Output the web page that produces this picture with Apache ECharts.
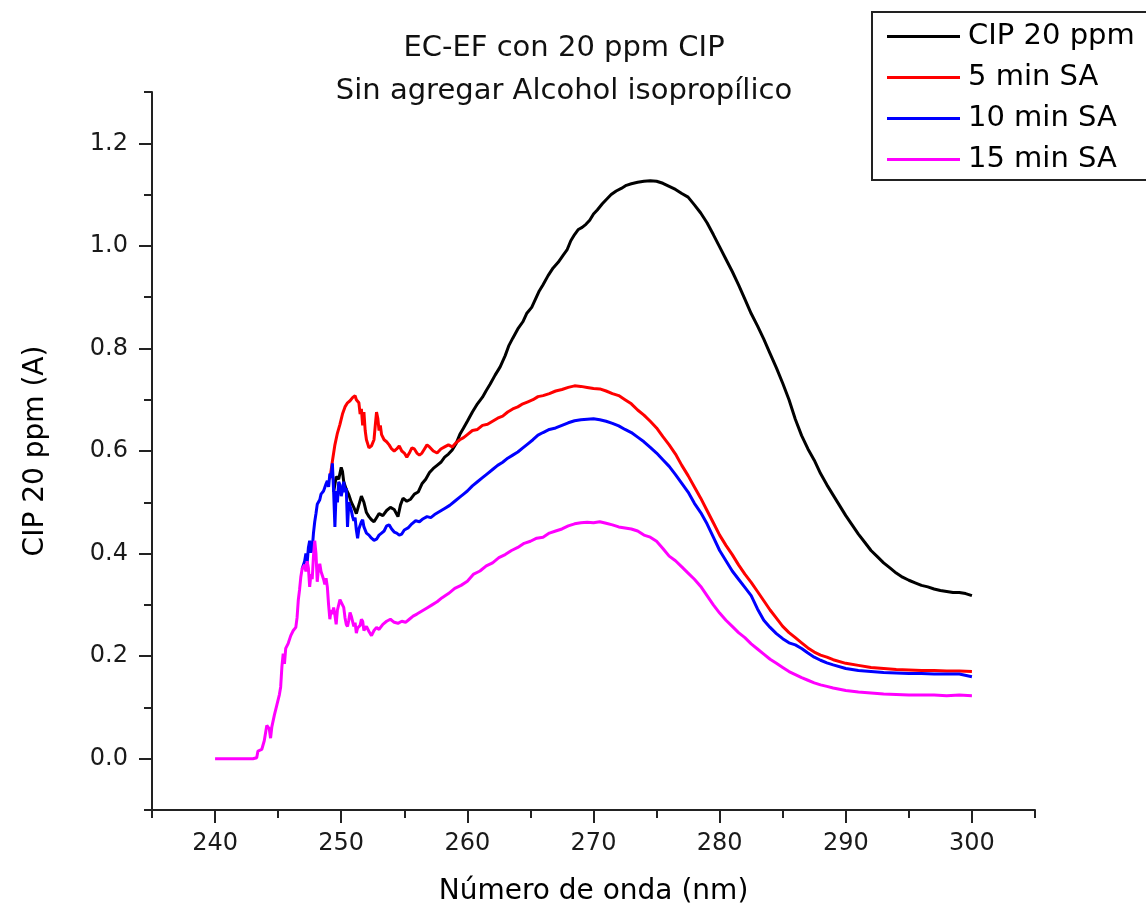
<!DOCTYPE html>
<html><head><meta charset="utf-8">
<script src="https://cdn.jsdelivr.net/npm/echarts@6/dist/echarts.min.js"></script>
<style>html,body{margin:0;padding:0;background:#fff}#chart{width:1146px;height:911px}</style>
</head><body><div id="chart"></div>
<script>
const seriesNames = ['CIP 20 ppm', '5 min SA', '10 min SA', '15 min SA'];
const seriesColors = ['#000000', '#ff0000', '#0000ff', '#ff00ff'];
const xMajorTicks = [240, 250, 260, 270, 280, 290, 300];
const xMinorTicks = [235, 245, 255, 265, 275, 285, 295, 305];
const yMajorTicks = [0, 0.2, 0.4, 0.6, 0.8, 1.0, 1.2];
const yMinorTicks = [-0.1, 0.1, 0.3, 0.5, 0.7, 0.9, 1.1, 1.3];

// [wavelength nm, absorbance]
const cip20 = [[249.4,0.52],[249.6,0.55],[249.8,0.545],[250.0,0.568],[250.1,0.560],[250.2,0.540],[250.4,0.525],[250.6,0.515],[250.8,0.500],[251.0,0.490],[251.2,0.478],[251.4,0.495],[251.6,0.512],[251.8,0.500],[252.0,0.480],[252.2,0.472],[252.4,0.466],[252.6,0.462],[252.8,0.470],[253.0,0.478],[253.3,0.474],[253.6,0.484],[253.9,0.490],[254.2,0.486],[254.5,0.472],[254.7,0.495],[254.9,0.508],[255.2,0.502],[255.5,0.506],[255.8,0.516],[256.1,0.520],[256.4,0.536],[256.7,0.545],[257.0,0.558],[257.3,0.566],[257.6,0.572],[257.9,0.578],[258.2,0.588],[258.5,0.594],[258.8,0.602],[259.1,0.614],[259.4,0.632],[259.7,0.645],[260.0,0.658],[260.4,0.676],[260.8,0.692],[261.2,0.705],[261.5,0.718],[261.8,0.730],[262.2,0.748],[262.6,0.764],[263.0,0.786],[263.3,0.806],[263.6,0.820],[264.0,0.838],[264.4,0.852],[264.7,0.868],[265.1,0.880],[265.4,0.896],[265.7,0.912],[266.0,0.924],[266.4,0.942],[266.8,0.957],[267.2,0.968],[267.6,0.982],[267.9,0.992],[268.2,1.010],[268.5,1.022],[268.8,1.032],[269.1,1.036],[269.4,1.042],[269.7,1.050],[270.0,1.062],[270.3,1.070],[270.7,1.082],[271.0,1.090],[271.4,1.100],[271.8,1.107],[272.2,1.112],[272.6,1.118],[273.0,1.121],[273.5,1.124],[274.0,1.126],[274.5,1.127],[275.0,1.126],[275.5,1.122],[276.0,1.116],[276.5,1.110],[277.0,1.102],[277.5,1.095],[278.0,1.080],[278.5,1.064],[279.0,1.045],[279.5,1.022],[280.0,0.998],[280.5,0.974],[281.0,0.950],[281.5,0.924],[282.0,0.896],[282.5,0.868],[283.0,0.844],[283.5,0.818],[284.0,0.790],[284.5,0.762],[285.0,0.732],[285.5,0.700],[286.0,0.662],[286.5,0.630],[287.0,0.604],[287.5,0.582],[288.0,0.556],[288.5,0.534],[289.0,0.514],[289.5,0.494],[290.0,0.474],[290.5,0.456],[291.0,0.438],[291.5,0.422],[292.0,0.406],[292.5,0.394],[293.0,0.382],[293.5,0.372],[294.0,0.362],[294.5,0.354],[295.0,0.348],[295.5,0.343],[296.0,0.338],[296.5,0.335],[297.0,0.331],[297.5,0.328],[298.0,0.326],[298.5,0.324],[299.0,0.324],[299.5,0.322],[300.0,0.318]];

const min5 = [[249.1,0.545],[249.3,0.580],[249.5,0.612],[249.7,0.635],[249.9,0.652],[250.1,0.672],[250.3,0.686],[250.5,0.694],[250.7,0.698],[250.9,0.704],[251.1,0.708],[251.2,0.700],[251.4,0.694],[251.5,0.672],[251.6,0.682],[251.7,0.650],[251.8,0.676],[251.9,0.640],[252.0,0.622],[252.2,0.606],[252.4,0.610],[252.6,0.622],[252.7,0.650],[252.8,0.676],[252.9,0.664],[253.0,0.640],[253.1,0.650],[253.2,0.632],[253.4,0.622],[253.6,0.618],[253.8,0.612],[254.0,0.604],[254.2,0.600],[254.4,0.604],[254.6,0.610],[254.8,0.600],[255.0,0.596],[255.2,0.588],[255.4,0.596],[255.6,0.606],[255.8,0.604],[256.0,0.596],[256.2,0.592],[256.4,0.596],[256.6,0.604],[256.8,0.612],[257.0,0.608],[257.3,0.600],[257.6,0.596],[257.9,0.604],[258.2,0.608],[258.5,0.612],[258.8,0.608],[259.1,0.616],[259.4,0.622],[259.7,0.626],[260.0,0.632],[260.4,0.640],[260.8,0.642],[261.2,0.650],[261.6,0.652],[262.0,0.658],[262.4,0.664],[262.8,0.668],[263.2,0.676],[263.6,0.682],[264.0,0.686],[264.4,0.692],[264.8,0.696],[265.2,0.700],[265.6,0.706],[266.0,0.708],[266.5,0.712],[267.0,0.717],[267.5,0.720],[268.0,0.724],[268.5,0.727],[269.0,0.726],[269.5,0.724],[270.0,0.722],[270.5,0.721],[271.0,0.717],[271.5,0.712],[272.0,0.708],[272.5,0.700],[273.0,0.692],[273.5,0.680],[274.0,0.670],[274.5,0.658],[275.0,0.645],[275.5,0.628],[276.0,0.612],[276.5,0.594],[277.0,0.572],[277.5,0.552],[278.0,0.530],[278.5,0.508],[279.0,0.484],[279.5,0.460],[280.0,0.436],[280.5,0.416],[281.0,0.398],[281.5,0.378],[282.0,0.360],[282.5,0.344],[283.0,0.326],[283.5,0.308],[284.0,0.290],[284.5,0.274],[285.0,0.258],[285.5,0.246],[286.0,0.236],[286.5,0.226],[287.0,0.216],[287.5,0.208],[288.0,0.202],[288.5,0.198],[289.0,0.193],[290.0,0.186],[291.0,0.182],[292.0,0.178],[293.0,0.176],[294.0,0.174],[295.0,0.173],[296.0,0.172],[297.0,0.172],[298.0,0.171],[299.0,0.171],[300.0,0.170]];

const min10 = [[246.9,0.370],[247.1,0.385],[247.2,0.400],[247.3,0.382],[247.4,0.412],[247.5,0.425],[247.6,0.402],[247.7,0.408],[247.8,0.440],[247.9,0.462],[248.0,0.478],[248.1,0.496],[248.3,0.505],[248.4,0.516],[248.6,0.522],[248.8,0.536],[248.9,0.542],[249.0,0.530],[249.1,0.556],[249.2,0.548],[249.3,0.576],[249.4,0.520],[249.5,0.452],[249.6,0.522],[249.7,0.500],[249.8,0.540],[249.9,0.534],[250.0,0.512],[250.1,0.524],[250.2,0.540],[250.3,0.520],[250.4,0.528],[250.5,0.452],[250.6,0.500],[250.7,0.492],[250.8,0.484],[250.9,0.472],[251.0,0.464],[251.1,0.470],[251.2,0.446],[251.3,0.430],[251.4,0.448],[251.6,0.462],[251.7,0.466],[251.8,0.452],[252.0,0.440],[252.2,0.436],[252.4,0.430],[252.6,0.426],[252.8,0.428],[253.0,0.436],[253.2,0.440],[253.4,0.444],[253.6,0.454],[253.8,0.456],[254.0,0.448],[254.2,0.442],[254.4,0.440],[254.6,0.436],[254.8,0.438],[255.0,0.446],[255.3,0.450],[255.6,0.458],[255.9,0.464],[256.2,0.462],[256.5,0.468],[256.8,0.472],[257.1,0.470],[257.4,0.476],[257.8,0.482],[258.2,0.488],[258.6,0.494],[259.0,0.502],[259.4,0.510],[259.7,0.516],[260.0,0.522],[260.4,0.532],[260.8,0.540],[261.2,0.548],[261.6,0.556],[262.0,0.564],[262.4,0.572],[262.8,0.578],[263.2,0.586],[263.6,0.592],[264.0,0.598],[264.4,0.606],[264.8,0.614],[265.2,0.622],[265.6,0.631],[266.0,0.636],[266.5,0.642],[267.0,0.645],[267.5,0.650],[268.0,0.655],[268.5,0.659],[269.0,0.661],[269.5,0.662],[270.0,0.663],[270.5,0.661],[271.0,0.658],[271.5,0.654],[272.0,0.649],[272.5,0.642],[273.0,0.636],[273.5,0.627],[274.0,0.618],[274.5,0.607],[275.0,0.596],[275.5,0.583],[276.0,0.570],[276.5,0.554],[277.0,0.537],[277.5,0.520],[278.0,0.498],[278.5,0.480],[279.0,0.458],[279.5,0.432],[280.0,0.406],[280.5,0.386],[281.0,0.366],[281.5,0.350],[282.0,0.334],[282.5,0.318],[283.0,0.292],[283.5,0.270],[284.0,0.256],[284.5,0.244],[285.0,0.234],[285.5,0.226],[286.0,0.222],[286.5,0.215],[287.0,0.206],[287.5,0.198],[288.0,0.192],[288.5,0.187],[289.0,0.183],[290.0,0.176],[291.0,0.172],[292.0,0.170],[293.0,0.168],[294.0,0.167],[295.0,0.166],[296.0,0.166],[297.0,0.165],[298.0,0.165],[299.0,0.165],[300.0,0.160]];

const min15 = [[240.0,0.000],[241.0,0.000],[242.0,0.000],[243.0,0.000],[243.3,0.002],[243.4,0.015],[243.7,0.018],[243.9,0.035],[244.1,0.065],[244.3,0.058],[244.4,0.040],[244.5,0.062],[244.7,0.085],[244.9,0.105],[245.1,0.125],[245.2,0.140],[245.3,0.180],[245.4,0.205],[245.5,0.185],[245.6,0.215],[245.8,0.225],[246.0,0.240],[246.2,0.250],[246.4,0.256],[246.5,0.275],[246.6,0.310],[246.7,0.330],[246.8,0.355],[246.9,0.370],[247.1,0.378],[247.2,0.365],[247.3,0.385],[247.4,0.372],[247.5,0.335],[247.6,0.360],[247.7,0.350],[247.8,0.395],[247.9,0.425],[248.0,0.400],[248.1,0.345],[248.2,0.372],[248.3,0.380],[248.4,0.365],[248.5,0.368],[248.6,0.350],[248.7,0.340],[248.8,0.352],[248.9,0.335],[249.0,0.300],[249.1,0.272],[249.2,0.290],[249.3,0.282],[249.4,0.295],[249.5,0.280],[249.6,0.262],[249.7,0.290],[249.8,0.300],[249.9,0.310],[250.0,0.312],[250.1,0.300],[250.2,0.295],[250.3,0.275],[250.4,0.262],[250.5,0.258],[250.6,0.270],[250.7,0.285],[250.8,0.278],[250.9,0.268],[251.0,0.258],[251.1,0.265],[251.2,0.245],[251.3,0.255],[251.5,0.260],[251.6,0.272],[251.7,0.268],[251.8,0.250],[252.0,0.258],[252.2,0.248],[252.4,0.240],[252.6,0.250],[252.8,0.256],[253.0,0.252],[253.3,0.262],[253.6,0.268],[253.9,0.272],[254.2,0.266],[254.5,0.264],[254.8,0.268],[255.1,0.266],[255.4,0.272],[255.7,0.278],[256.0,0.282],[256.4,0.288],[256.8,0.294],[257.2,0.300],[257.6,0.306],[258.0,0.314],[258.5,0.322],[259.0,0.332],[259.5,0.338],[260.0,0.346],[260.5,0.360],[261.0,0.366],[261.5,0.376],[262.0,0.382],[262.5,0.392],[263.0,0.398],[263.5,0.406],[264.0,0.412],[264.5,0.420],[265.0,0.424],[265.5,0.430],[266.0,0.432],[266.5,0.440],[267.0,0.444],[267.5,0.448],[268.0,0.454],[268.5,0.458],[269.0,0.460],[269.5,0.461],[270.0,0.460],[270.5,0.462],[271.0,0.459],[271.5,0.456],[272.0,0.452],[272.5,0.450],[273.0,0.448],[273.5,0.444],[274.0,0.436],[274.5,0.432],[275.0,0.424],[275.5,0.410],[276.0,0.395],[276.5,0.386],[277.0,0.374],[277.5,0.362],[278.0,0.350],[278.5,0.336],[279.0,0.318],[279.5,0.300],[280.0,0.284],[280.5,0.270],[281.0,0.258],[281.5,0.246],[282.0,0.236],[282.5,0.224],[283.0,0.214],[283.5,0.204],[284.0,0.194],[284.5,0.186],[285.0,0.178],[285.5,0.170],[286.0,0.164],[286.5,0.158],[287.0,0.153],[287.5,0.148],[288.0,0.144],[288.5,0.141],[289.0,0.138],[290.0,0.133],[291.0,0.130],[292.0,0.128],[293.0,0.126],[294.0,0.125],[295.0,0.124],[296.0,0.124],[297.0,0.124],[298.0,0.123],[299.0,0.124],[300.0,0.123]];

const seriesData = [cip20, min5, min10, min15];

const FONT = 'DejaVu Sans';
const AX = '#222222';
const chart = echarts.init(document.getElementById('chart'), null, {renderer: 'canvas'});
chart.setOption({
  animation: false,
  backgroundColor: '#ffffff',
  title: {
    text: 'EC-EF con 20 ppm CIP\nSin agregar Alcohol isopropílico',
    left: 564, top: 27, textAlign: 'center', padding: 0,
    textStyle: {fontFamily: FONT, fontSize: 29, fontWeight: 'normal', color: '#111', lineHeight: 43}
  },
  legend: {
    data: seriesNames, orient: 'vertical', left: 872, top: 12,
    icon: 'rect', itemWidth: 73, itemHeight: 3, itemGap: 12,
    padding: [10, 20, 6, 15],
    borderColor: AX, borderWidth: 2, selectedMode: false,
    textStyle: {fontFamily: FONT, fontSize: 29, color: '#000', lineHeight: 27, padding: [0, 0, 0, 3]}
  },
  grid: {left: 152, right: 111, top: 92, bottom: 101, containLabel: false},
  xAxis: [
    {
      type: 'value', min: 235, max: 305, position: 'bottom',
      name: 'Número de onda (nm)', nameLocation: 'middle', nameGap: 68,
      nameTextStyle: {fontFamily: FONT, fontSize: 28, color: '#000'},
      axisLine: {show: true, onZero: false, lineStyle: {color: AX, width: 2}},
      axisTick: {show: true, customValues: xMajorTicks, length: 13, lineStyle: {color: AX, width: 2}},
      axisLabel: {customValues: xMajorTicks, margin: 22, fontFamily: FONT, fontSize: 24, color: '#1a1a1a'},
      splitLine: {show: false}
    },
    {
      type: 'value', min: 235, max: 305, position: 'bottom',
      axisLine: {show: false, onZero: false},
      axisTick: {show: true, customValues: xMinorTicks, length: 8, lineStyle: {color: AX, width: 2}},
      axisLabel: {show: false}, splitLine: {show: false}
    }
  ],
  yAxis: [
    {
      type: 'value', min: -0.1, max: 1.3, position: 'left',
      name: 'CIP 20 ppm (A)', nameLocation: 'middle', nameGap: 102,
      nameTextStyle: {fontFamily: FONT, fontSize: 28, color: '#000'},
      axisLine: {show: true, onZero: false, lineStyle: {color: AX, width: 2}},
      axisTick: {show: true, customValues: yMajorTicks, length: 13, lineStyle: {color: AX, width: 2}},
      axisLabel: {customValues: yMajorTicks, margin: 24, fontFamily: FONT, fontSize: 24, color: '#1a1a1a',
        formatter: v => v.toFixed(1)},
      splitLine: {show: false}
    },
    {
      type: 'value', min: -0.1, max: 1.3, position: 'left',
      axisLine: {show: false, onZero: false},
      axisTick: {show: true, customValues: yMinorTicks, length: 8, lineStyle: {color: AX, width: 2}},
      axisLabel: {show: false}, splitLine: {show: false}
    }
  ],
  series: seriesNames.map((n, i) => ({
    name: n, type: 'line', data: seriesData[i], xAxisIndex: 0, yAxisIndex: 0,
    symbol: 'none', showSymbol: false, sampling: null, smooth: false,
    lineStyle: {color: seriesColors[i], width: 3}, itemStyle: {color: seriesColors[i]},
    z: 2 + i
  }))
});
</script></body></html>
